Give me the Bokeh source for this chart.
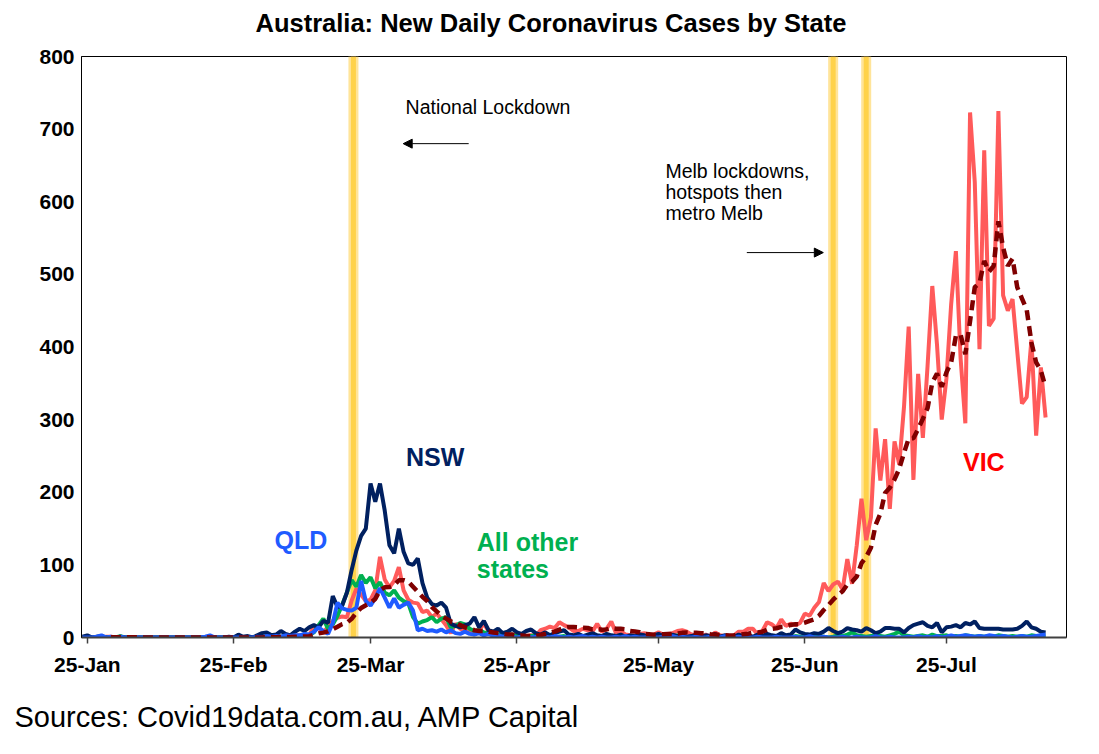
import pandas as pd
from bokeh.plotting import figure
from bokeh.models import (Range1d, FixedTicker, DatetimeTickFormatter, Span, Label,
                          Arrow, NormalHead, ColumnDataSource, Title)
from bokeh.embed import file_html
from bokeh.resources import INLINE

FONT = "Liberation Sans"

# ---------------- data (daily new cases, 24 Jan 2020 .. 15 Aug 2020) ----------------
dates = pd.date_range("2020-01-24", "2020-08-15", freq="D")

nsw_jan = [1, 3, 0, 1, 2, 0, 0, 0]
nsw_feb = [1] + [0] * 22 + [1, 0, 4, 1, 2, 0]
nsw_mar = [3, 6, 7, 3, 4, 9, 5, 3, 8, 12, 9, 14, 17, 14, 23, 20, 57, 42, 44, 62,
           93, 120, 140, 150, 212, 187, 212, 175, 127, 116, 150]
nsw_apr = [118, 102, 100, 109, 75, 55, 46, 44, 48, 41, 19, 16, 14, 17, 19, 28, 14, 23, 10, 8,
           12, 6, 8, 12, 7, 5, 9, 11, 6, 4]
nsw_may = [7, 3, 6, 8, 10, 4, 3, 5, 2, 4, 6, 3, 2, 5, 3, 2, 4, 1, 3, 2,
           4, 3, 1, 3, 5, 2, 1, 4, 2, 3, 1]
nsw_jun = [2, 4, 1, 3, 2, 5, 1, 3, 2, 1, 4, 2, 3, 1, 4, 2, 5, 3, 2, 6,
           3, 4, 11, 7, 5, 4, 6, 5, 8, 13]
nsw_jul = [9, 6, 8, 13, 11, 10, 8, 13, 10, 6, 8, 13, 13, 12, 12, 7, 13, 17, 19, 21,
           16, 14, 20, 7, 14, 15, 17, 14, 20, 18, 22]
nsw_aug = [13, 12, 12, 12, 12, 11, 11, 11, 12, 16, 22, 14, 12, 8, 7]

vic_jan = [0, 1, 0, 0, 0, 1, 1, 0]
vic_feb = [1] + [0] * 28
vic_mar = [1, 0, 1, 1, 0, 1, 0, 1, 2, 3, 3, 3, 15, 13, 8, 14, 23, 27, 29, 28,
           51, 67, 59, 50, 52, 65, 111, 80, 69, 78, 97]
vic_apr = [65, 52, 48, 47, 35, 37, 28, 33, 25, 17, 6, 19, 12, 10, 8, 4, 10, 19, 9, 8,
           3, 1, 1, 2, 3, 2, 2, 3, 2, 10]
vic_may = [12, 15, 13, 21, 17, 14, 9, 9, 12, 10, 8, 19, 8, 12, 22, 6, 9, 4, 3, 2,
           5, 6, 3, 4, 7, 4, 5, 6, 9, 10, 8]
vic_jun = [4, 3, 2, 4, 1, 7, 3, 2, 1, 3, 8, 8, 12, 12, 4, 9, 21, 18, 13, 25,
           16, 19, 17, 20, 33, 30, 41, 49, 75, 64]
vic_jul = [73, 77, 66, 108, 74, 127, 191, 134, 165, 288, 216, 273, 177, 270, 238, 317, 428, 217, 363, 275,
           374, 484, 403, 300, 357, 459, 532, 384, 295, 723, 627]
vic_aug = [397, 671, 429, 439, 725, 471, 450, 466, 394, 322, 331, 410, 278, 372, 303]

# VIC 7-day average as shown by the dashed line
vic_avg_jan = [None] * 6 + [0.4, 0.4]
vic_avg_feb = [0.4, 0.4, 0.4, 0.4, 0.3, 0.1, 0.1] + [0] * 22
vic_avg_mar = [0.1, 0.1, 0.3, 0.4, 0.4, 0.6, 0.6, 0.6, 0.9, 1.1, 1.4, 1.9, 3.9, 5.7, 6.7, 8.4, 11.3, 14.7,
               18.4, 20.3, 25.7, 34.1, 40.6, 44.4, 48.0, 53.1, 65.0, 69.1, 69.4, 72.1, 78.9]
vic_avg_apr = [79, 77, 70, 63, 56, 50, 42, 36, 30, 26, 22, 20, 17, 14, 12, 10, 9, 9, 8, 7,
               6, 5, 4, 4, 3, 2.9, 2.0, 2.0, 2.1, 3.4]
vic_avg_may = [4.9, 6.6, 8.1, 10.9, 12.9, 14.6, 14.4, 14.0, 13.6, 13.1, 11.3, 11.6, 10.7, 11.1, 13.0, 12.1,
               12.0, 11.4, 9.1, 8.3, 7.3, 5.0, 4.6, 3.9, 4.3, 4.4, 4.9, 5.0, 5.4, 6.4, 7.0]
vic_avg_jun = [6.6, 6.4, 6.0, 5.7, 4.6, 4.1, 3.4, 3.1, 2.9, 3.0, 3.6, 4.6, 5.3, 6.6, 6.9, 8.0, 10.6, 12.0,
               12.7, 14.6, 15.1, 17.3, 18.4, 18.3, 20.4, 22.9, 25.1, 29.9, 37.9, 44.6]
vic_avg_jul = [52.1, 58.4, 63.6, 73.1, 76.7, 84.1, 102.3, 111.0, 123.6, 155.3, 170.7, 199.1, 206.3, 217.6,
               232.4, 254.1, 274.1, 274.3, 287.1, 301.1, 316.0, 351.1, 363.4, 345.1, 365.1, 378.9, 415.6,
               417.0, 390.0, 435.7, 482.4]
vic_avg_aug = [488.1, 518.4, 503.7, 511.6, 573.0, 537.0, 511.7, 521.6, 482.0, 466.7, 451.3, 406.3,
               378.7, 367.6, 344.3]

qld_jan = [0, 0, 0, 1, 3, 0, 1, 0]
qld_feb = [1] + [0] * 17 + [1, 3] + [0] * 9
qld_mar = [1, 0, 2, 1, 2, 1, 3, 2, 3, 3, 5, 4, 8, 14, 9, 5, 20, 48, 40, 38,
           37, 41, 78, 50, 44, 54, 68, 55, 41, 54, 41]
qld_apr = [45, 48, 37, 10, 12, 9, 10, 8, 11, 7, 10, 6, 5, 8, 5, 4, 6, 3, 5, 2,
           3, 1, 2, 1, 0, 1, 2, 0, 1, 2]
qld_may = [1, 0, 2, 1, 0, 1, 0, 1, 2, 0, 1, 0, 1, 0, 0, 1, 0, 2, 0, 1,
           0, 0, 1, 0, 0, 1, 0, 2, 0, 1, 0]
qld_jun = [0, 1, 0, 0, 1, 0, 0, 2, 0, 0, 1, 0, 0, 0, 1, 0, 0, 0, 1, 0,
           0, 0, 1, 0, 0, 2, 0, 0, 1, 0]
qld_jul = [0, 0, 1, 0, 0, 1, 0, 0, 0, 2, 0, 0, 1, 0, 0, 0, 1, 0, 2, 0,
           1, 0, 2, 0, 1, 3, 1, 2, 3, 2, 1]
qld_aug = [2, 1, 3, 2, 1, 2, 1, 0, 1, 2, 1, 1, 2, 3, 4]

oth_jan = [0, 0, 0, 0, 0, 0, 0, 0]
oth_feb = [2] + [0] * 28
oth_mar = [1, 0, 1, 0, 2, 1, 2, 1, 2, 2, 4, 3, 7, 17, 26, 12, 18, 30, 45, 62,
           79, 70, 86, 75, 83, 68, 76, 62, 58, 65, 55]
oth_apr = [50, 47, 28, 19, 22, 24, 28, 21, 26, 28, 14, 16, 20, 18, 12, 9, 10, 7, 6, 8,
           4, 5, 3, 4, 2, 3, 1, 2, 3, 1]
oth_may = [2, 1, 0, 1, 2, 0, 1, 1, 0, 2, 1, 0, 1, 0, 0, 2, 1, 0, 1, 0,
           0, 1, 2, 0, 1, 0, 0, 1, 3, 1, 0]
oth_jun = [1, 0, 2, 1, 0, 1, 0, 1, 2, 1, 0, 0, 1, 0, 2, 1, 0, 1, 0, 3,
           1, 0, 2, 1, 0, 1, 3, 2, 1, 0]
oth_jul = [1, 3, 2, 4, 7, 3, 2, 1, 2, 4, 2, 1, 3, 5, 8, 3, 2, 1, 2, 3,
           1, 4, 2, 2, 3, 1, 2, 1, 3, 2, 1]
oth_aug = [2, 1, 2, 1, 3, 2, 1, 2, 1, 2, 1, 3, 2, 1, 2]

tick_dates = ["2020-01-25", "2020-02-25", "2020-03-25", "2020-04-25",
              "2020-05-25", "2020-06-25", "2020-07-25"]
lockdown_dates = ["2020-03-21 09:00", "2020-07-01 00:00", "2020-07-08 00:00"]

nsw = nsw_jan + nsw_feb + nsw_mar + nsw_apr + nsw_may + nsw_jun + nsw_jul + nsw_aug
vic = vic_jan + vic_feb + vic_mar + vic_apr + vic_may + vic_jun + vic_jul + vic_aug
vic_avg = (vic_avg_jan + vic_avg_feb + vic_avg_mar + vic_avg_apr + vic_avg_may
           + vic_avg_jun + vic_avg_jul + vic_avg_aug)
qld = qld_jan + qld_feb + qld_mar + qld_apr + qld_may + qld_jun + qld_jul + qld_aug
oth = oth_jan + oth_feb + oth_mar + oth_apr + oth_may + oth_jun + oth_jul + oth_aug
vic_avg = [float("nan") if v is None else v for v in vic_avg]

src = ColumnDataSource(dict(date=dates, nsw=nsw, vic=vic, vic_avg=vic_avg, qld=qld, oth=oth))


def ms(s):
    return pd.Timestamp(s).value // 10**6


day0 = pd.Timestamp("2020-01-25")
x_start = day0 - pd.Timedelta(days=1.23)
x_end = day0 + pd.Timedelta(days=207.43)

p = figure(x_axis_type="datetime", output_backend="svg", toolbar_location=None,
           frame_width=985, frame_height=581,
           min_border_left=81, min_border_right=25, min_border_top=56, min_border_bottom=111,
           x_range=Range1d(x_start, x_end), y_range=Range1d(0, 800))
p.background_fill_color = "white"
p.border_fill_color = "white"
p.outline_line_color = "black"
p.outline_line_width = 1
p.xgrid.visible = False
p.ygrid.visible = False

# title: a small spacer next to the frame, then the title text above it
p.add_layout(Title(text=" ", text_font=FONT, text_font_size="8px", standoff=8), "above")
p.add_layout(Title(text="Australia: New Daily Coronavirus Cases by State", align="left",
                   offset=174, standoff=2, text_font=FONT, text_font_size="25.5px",
                   text_font_style="bold", text_color="black"), "above")

# axes
p.xaxis.ticker = FixedTicker(ticks=[ms(d) for d in tick_dates])
fmt = "%d-%b"
p.xaxis.formatter = DatetimeTickFormatter(days=fmt, months=fmt, years=fmt, hours=fmt,
                                          hourmin=fmt, minutes=fmt)
p.xaxis.minor_tick_line_color = None
p.xaxis.major_tick_out = 6
p.xaxis.major_tick_in = 0
p.xaxis.major_tick_line_color = "#404040"
p.xaxis.major_tick_line_width = 1.5
p.xaxis.axis_line_color = "#404040"
p.xaxis.axis_line_width = 2
p.xaxis.major_label_standoff = 9

p.yaxis.ticker = FixedTicker(ticks=list(range(0, 801, 100)))
p.yaxis.minor_tick_line_color = None
p.yaxis.major_tick_line_color = None
p.yaxis.major_tick_out = 0
p.yaxis.major_tick_in = 0
p.yaxis.axis_line_color = "black"
p.yaxis.major_label_standoff = 7

for ax in (p.xaxis, p.yaxis):
    ax.major_label_text_font = FONT
    ax.major_label_text_font_size = "21px"
    ax.major_label_text_font_style = "bold"
    ax.major_label_text_color = "black"

# source note below the axis
p.add_layout(Title(text="Sources: Covid19data.com.au, AMP Capital", align="left",
                   offset=-67, standoff=40, text_font=FONT, text_font_size="29px",
                   text_font_style="normal", text_color="black"), "below")

# lockdown bands
for d in lockdown_dates:
    p.add_layout(Span(location=ms(d), dimension="height", line_color="#FFE49A",
                      line_width=10, level="underlay"))
    p.add_layout(Span(location=ms(d), dimension="height", line_color="#FFD24A",
                      line_width=5, level="underlay"))

# series
p.line("date", "vic", source=src, line_color="#FF5A5A", line_width=4)
p.line("date", "oth", source=src, line_color="#00B050", line_width=4)
p.line("date", "nsw", source=src, line_color="#002060", line_width=4)
p.line("date", "qld", source=src, line_color="#1F5BFF", line_width=4)
p.line("date", "vic_avg", source=src, line_color="#7F0000", line_width=4.5, line_dash="10 6")


def lab(x, y, text, color="black", size="19.5px", style="normal"):
    p.add_layout(Label(x=ms(x), y=y, text=text, text_font=FONT, text_font_size=size,
                       text_font_style=style, text_color=color, text_baseline="middle",
                       text_align="left"))


# series labels
lab("2020-04-01 12:00", 248, "NSW", "#002060", "25px", "bold")
lab("2020-03-04 16:00", 134, "QLD", "#1F5BFF", "25px", "bold")
lab("2020-04-16 12:00", 132, "All other", "#00B050", "25px", "bold")
lab("2020-04-16 12:00", 95, "states", "#00B050", "25px", "bold")
lab("2020-07-28 12:00", 241, "VIC", "#FF0000", "25px", "bold")

# event annotations
lab("2020-04-01 10:00", 730, "National Lockdown")
lab("2020-05-26 11:00", 643, "Melb lockdowns,")
lab("2020-05-26 11:00", 613, "hotspots then")
lab("2020-05-26 11:00", 584, "metro Melb")

p.add_layout(Arrow(end=NormalHead(size=9, fill_color="black", line_color="black"),
                   x_start=ms("2020-04-14 19:00"), y_start=680,
                   x_end=ms("2020-03-31 22:00"), y_end=680,
                   line_color="black", line_width=1))
p.add_layout(Arrow(end=NormalHead(size=9, fill_color="black", line_color="black"),
                   x_start=ms("2020-06-12 17:00"), y_start=530,
                   x_end=ms("2020-06-28 22:00"), y_end=530,
                   line_color="black", line_width=1))

open("out.html", "w").write(file_html(p, INLINE))
